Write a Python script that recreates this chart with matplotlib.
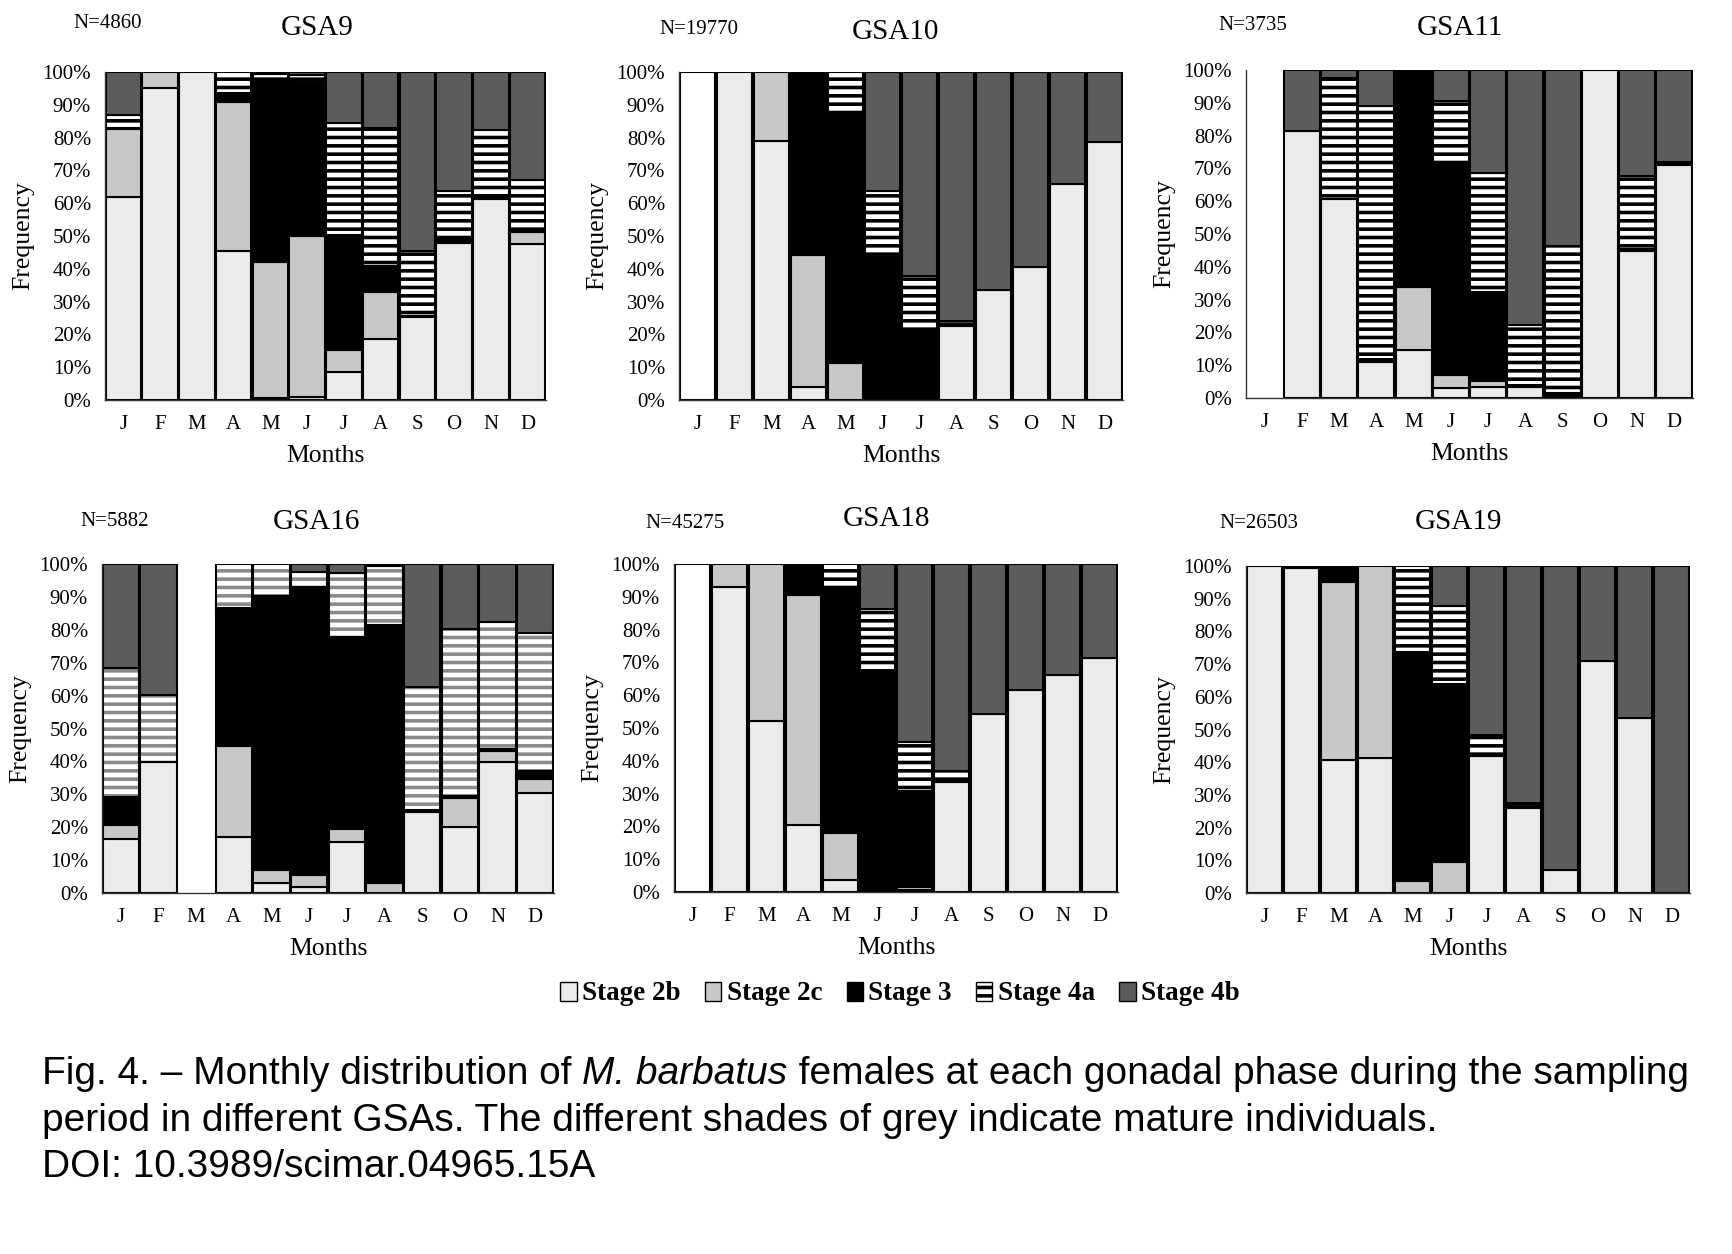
import numpy as np
import matplotlib
matplotlib.use("Agg")
import matplotlib.pyplot as plt
from matplotlib.patches import Patch

plt.rcParams['font.family'] = ['Liberation Serif', 'DejaVu Serif']
plt.rcParams['hatch.linewidth'] = 2.6

W, H = 1732, 1254
DPI = 100

months = ['J', 'F', 'M', 'A', 'M', 'J', 'J', 'A', 'S', 'O', 'N', 'D']
stage_names = ['Stage 2b', 'Stage 2c', 'Stage 3', 'Stage 4a', 'Stage 4b']

# ---- data: percentage of females per stage, month by month ----
# "unstaged" = plain white bar (no stage fill)
gsa9_unstaged = [0, 0, 0, 0, 0, 0, 0, 0, 0, 0, 0, 0]
gsa9_2b = [62, 95, 100, 45.5, 0.5, 1, 8.5, 18.5, 25.2, 48, 61.2, 47.5]
gsa9_2c = [20.5, 5, 0, 45.5, 41.5, 49, 6.7, 14.5, 0, 0.5, 0, 3.8]
gsa9_3 = [0.5, 0, 0, 2.5, 56, 47, 35.1, 8, 0.5, 0.3, 1, 0.5]
gsa9_4a = [4, 0, 0, 6.5, 1.5, 2, 34.2, 42, 19.8, 14.8, 20.2, 15.2]
gsa9_4b = [13, 0, 0, 0, 0.5, 1, 15.5, 17, 54.5, 36.4, 17.6, 33]

gsa10_unstaged = [100, 0, 0, 0, 0, 0, 0, 0, 0, 0, 0, 0]
gsa10_2b = [0, 100, 79, 4, 0, 0, 0, 22.6, 33.4, 40.4, 65.9, 78.6]
gsa10_2c = [0, 0, 21, 40.3, 11.4, 0, 0, 0, 0, 0, 0, 0]
gsa10_3 = [0, 0, 0, 55.7, 76.2, 43.5, 21.7, 0.7, 0, 0, 0, 0]
gsa10_4a = [0, 0, 0, 0, 12.4, 20.3, 16, 0.8, 0, 0, 0, 0]
gsa10_4b = [0, 0, 0, 0, 0, 36.2, 62.3, 75.9, 66.6, 59.6, 34.1, 21.4]

gsa11_unstaged = [0, 0, 0, 0, 0, 0, 0, 0, 0, 0, 0, 0]
gsa11_2b = [0, 81.5, 60.7, 10.9, 14.7, 3, 3.4, 3.4, 0.5, 100, 44.9, 70.9]
gsa11_2c = [0, 0, 0, 0, 19.1, 4.1, 1.9, 0, 0, 0, 0, 0]
gsa11_3 = [0, 0, 0, 1, 65.2, 63.8, 26.9, 0.6, 1, 0, 0.5, 1]
gsa11_4a = [0, 0, 37, 77.1, 0.5, 19.5, 36.3, 18.3, 44.7, 0, 22.4, 0]
gsa11_4b = [0, 18.5, 2.3, 11, 0.5, 9.6, 31.5, 77.7, 53.8, 0, 32.2, 28.1]

gsa16_unstaged = [0, 0, 0, 0, 0, 0, 0, 0, 0, 0, 0, 0]
gsa16_2b = [16.5, 39.9, 0, 17, 3, 1.8, 15.5, 0, 24.7, 20.1, 39.9, 30.3]
gsa16_2c = [4.3, 0, 0, 27.7, 4.1, 3.6, 4.1, 3, 0, 8.9, 3.2, 4.3]
gsa16_3 = [8.4, 0, 0, 41.9, 83.1, 87.5, 58.1, 78.5, 0.5, 0.5, 0.6, 2.4]
gsa16_4a = [39.1, 20.3, 0, 13.4, 9.8, 4.6, 19.6, 17.8, 37.3, 50.7, 38.6, 42]
gsa16_4b = [31.7, 39.8, 0, 0, 0, 2.5, 2.7, 0.7, 37.5, 19.8, 17.7, 21]

gsa18_unstaged = [100, 0, 0, 0, 0, 0, 0, 0, 0, 0, 0, 0]
gsa18_2b = [0, 93.1, 52.1, 20.3, 3.6, 0, 0.5, 33.4, 54.4, 61.7, 66.1, 71.2]
gsa18_2c = [0, 6.9, 47.9, 70.2, 14.4, 0, 1, 0, 0, 0, 0, 0]
gsa18_3 = [0, 0, 0, 9.5, 74.1, 66.8, 29.3, 0.5, 0, 0, 0, 0]
gsa18_4a = [0, 0, 0, 0, 7.9, 19.4, 15, 2.9, 0, 0, 0, 0]
gsa18_4b = [0, 0, 0, 0, 0, 13.8, 54.2, 63.2, 45.6, 38.3, 33.9, 28.8]

gsa19_unstaged = [0, 0, 0, 0, 0, 0, 0, 0, 0, 0, 0, 0]
gsa19_2b = [100, 99.3, 40.7, 41.4, 0, 0, 41.8, 26, 6.9, 71.1, 53.5, 0]
gsa19_2c = [0, 0, 54.3, 58.6, 3.8, 9.4, 0, 0, 0, 0, 0, 0]
gsa19_3 = [0, 0.7, 5, 0, 70, 54.4, 0.5, 0.5, 0, 0, 0, 0]
gsa19_4a = [0, 0, 0, 0, 26.2, 24, 5.9, 1, 0, 0, 0, 0]
gsa19_4b = [0, 0, 0, 0, 0, 12.2, 51.8, 72.5, 93.1, 28.9, 46.5, 100]

panel_titles = ['GSA9', 'GSA10', 'GSA11', 'GSA16', 'GSA18', 'GSA19']
panel_n = ['N=4860', 'N=19770', 'N=3735', 'N=5882', 'N=45275', 'N=26503']
panel_data = [
    [gsa9_unstaged, gsa9_2b, gsa9_2c, gsa9_3, gsa9_4a, gsa9_4b],
    [gsa10_unstaged, gsa10_2b, gsa10_2c, gsa10_3, gsa10_4a, gsa10_4b],
    [gsa11_unstaged, gsa11_2b, gsa11_2c, gsa11_3, gsa11_4a, gsa11_4b],
    [gsa16_unstaged, gsa16_2b, gsa16_2c, gsa16_3, gsa16_4a, gsa16_4b],
    [gsa18_unstaged, gsa18_2b, gsa18_2c, gsa18_3, gsa18_4a, gsa18_4b],
    [gsa19_unstaged, gsa19_2b, gsa19_2c, gsa19_3, gsa19_4a, gsa19_4b],
]

# ---- layout (pixels) ----
axes_px = [  # left, top, right, bottom
    (105, 72, 546, 400),
    (679, 72, 1123, 400),
    (1246, 70, 1693, 398),
    (102, 564, 554, 893),
    (674, 564, 1118, 892),
    (1246, 566, 1690, 893),
]
title_px = [(317, 28), (895, 32), (1460, 28), (316, 522), (887, 519), (1458, 522)]
n_px = [(73, 23), (659, 30), (1218, 26), (80, 521), (645, 524), (1219, 524)]

fills = ['#ffffff', '#ebebeb', '#c8c8c8', '#000000', '#ffffff', '#5c5c5c']
hatches = [None, None, None, None, '--', None]

fig = plt.figure(figsize=(W / DPI, H / DPI), dpi=DPI)
x = np.arange(12)

for p in range(6):
    l, t, r, b = axes_px[p]
    ax = fig.add_axes([l / W, 1 - b / H, (r - l) / W, (b - t) / H])
    bottom = np.zeros(12)
    hatch_col = '#8a8a8a' if p == 3 else 'black'
    for s, vals in enumerate(panel_data[p]):
        v = np.array(vals, dtype=float)
        m = v > 0
        if m.any():
            if hatches[s]:
                ax.bar(x[m], v[m], bottom=bottom[m], width=0.96, color=fills[s],
                       edgecolor=hatch_col, hatch=hatches[s], linewidth=0)
                ax.bar(x[m], v[m], bottom=bottom[m], width=0.96, fill=False,
                       edgecolor='black', linewidth=1.5)
            else:
                ax.bar(x[m], v[m], bottom=bottom[m], width=0.96, color=fills[s],
                       edgecolor='black', linewidth=1.5)
        bottom += v
    ax.set_xlim(-0.5, 11.5)
    ax.set_ylim(0, 100)
    ax.set_yticks(np.arange(0, 101, 10))
    ax.set_yticklabels([f'{v}%' for v in range(0, 101, 10)], fontsize=15)
    ax.set_xticks(x)
    ax.set_xticklabels(months, fontsize=15)
    ax.tick_params(axis='both', length=0)
    ax.tick_params(axis='y', pad=10)
    ax.tick_params(axis='x', pad=11)
    for side in ['top', 'right']:
        ax.spines[side].set_visible(False)
    for side in ['left', 'bottom']:
        ax.spines[side].set_linewidth(1.0)
        ax.spines[side].set_color('#333333')
    ax.set_xlabel('Months', fontsize=18.5, labelpad=8)
    ax.set_ylabel('Frequency', fontsize=18.5, labelpad=6)
    tx, ty = title_px[p]
    fig.text(tx / W, 1 - ty / H, panel_titles[p], fontsize=21, ha='center', va='center')
    nx, ny = n_px[p]
    fig.text(nx / W, 1 - ny / H, panel_n[p], fontsize=15, ha='left', va='center')

# legend
handles = [Patch(facecolor=fills[i + 1], edgecolor='black', hatch=hatches[i + 1],
                 linewidth=1.0, label=stage_names[i]) for i in range(5)]
fig.legend(handles=handles, loc='center', bbox_to_anchor=(900 / W, 1 - 994 / H),
           ncol=5, frameon=False, prop={'family': 'Liberation Serif', 'weight': 'bold', 'size': 19.5},
           handlelength=0.6, handleheight=0.7, handletextpad=0.2, columnspacing=0.9)

# caption
cap_font = dict(family='Liberation Sans', fontsize=28, va='center', ha='left')
renderer = fig.canvas.get_renderer()
y1 = 1 - 1074 / H
t1 = fig.text(42 / W, y1, 'Fig. 4. \u2013 Monthly distribution of ', **cap_font)
bb = t1.get_window_extent(renderer)
t2 = fig.text(bb.x1 / W, y1, 'M. barbatus', style='italic', **cap_font)
bb2 = t2.get_window_extent(renderer)
fig.text(bb2.x1 / W, y1, ' females at each gonadal phase during the sampling', **cap_font)
fig.text(42 / W, 1 - 1121 / H,
         'period in different GSAs. The different shades of grey indicate mature individuals.', **cap_font)
fig.text(42 / W, 1 - 1167 / H, 'DOI: 10.3989/scimar.04965.15A', **cap_font)

fig.savefig('out.png', dpi=DPI, facecolor='white')
